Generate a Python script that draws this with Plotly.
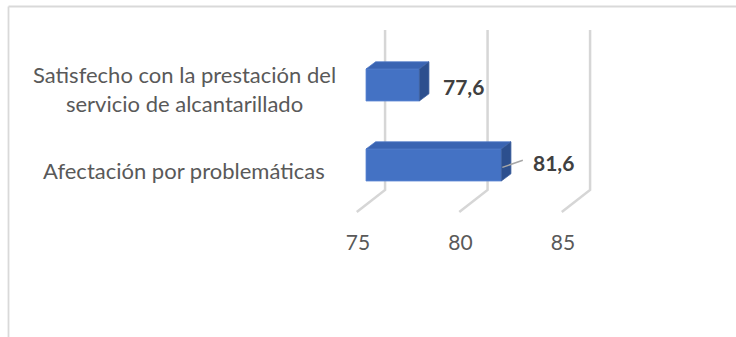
import plotly.graph_objects as go

# --- data ---------------------------------------------------------------
categories = ["Afectación por problemáticas",
              "Satisfecho con la prestación del<br>servicio de alcantarillado"]
values = [81.6, 77.6]
tick_values = [75, 80, 85]
tick_labels = ["75", "80", "85"]
axis_base = 75

# --- style --------------------------------------------------------------
FRONT = "#4472C4"
TOP = "#3A64B2"
SIDE = "#2C4F8E"
GRID = "#D6D6D6"
TEXT = "#595959"
LABEL = "#404040"
FONT = "Lato"

bar_half = 0.2          # half bar thickness (y units)
depth_dx = 0.47         # depth offset of the bar's back faces (x units)
depth_dy = 0.09         # depth offset of the bar's back faces (y units)
wall_dx = 0.93          # back wall offset from the front plane
wall_top, wall_bottom = 1.6875, -0.3125
floor_dx, floor_y = -0.45, -0.5875

W, H = 736, 337
ML, MR, MT, MB = 300, 36, 20, 109
px_per_unit = 20.5
plot_w = W - ML - MR
plot_h = H - MT - MB
x0 = axis_base - 66 / px_per_unit
x_range = [x0, x0 + plot_w / px_per_unit]
y_range = [-(H - MB - 165) / 80, (165 - MT) / 80]

ypos = list(range(len(categories)))

fig = go.Figure()

# back wall gridlines with their floor segments (kept beneath the bars)
for t in tick_values:
    fig.add_shape(type="path", xref="x", yref="y", layer="below",
                  path=(f"M {t + wall_dx},{wall_top} L {t + wall_dx},{wall_bottom} "
                        f"L {t + floor_dx},{floor_y}"),
                  line=dict(color=GRID, width=2.5))

# front faces
fig.add_trace(go.Bar(
    y=ypos, x=[v - axis_base for v in values], base=[axis_base] * len(values),
    orientation="h", width=2 * bar_half,
    marker=dict(color=FRONT, line=dict(color="#5A86D6", width=0.8)),
    hovertext=[f"{v:.1f}".replace(".", ",") for v in values], hoverinfo="text",
    showlegend=False))

# top and side faces
for y, v in zip(ypos, values):
    top = y + bar_half
    bot = y - bar_half
    fig.add_trace(go.Scatter(
        x=[axis_base, axis_base + depth_dx, v + depth_dx, v, axis_base],
        y=[top, top + depth_dy, top + depth_dy, top, top],
        fill="toself", fillcolor=TOP, mode="lines",
        line=dict(color="#4F79C6", width=0.8),
        hoverinfo="skip", showlegend=False))
    fig.add_trace(go.Scatter(
        x=[v, v + depth_dx, v + depth_dx, v, v],
        y=[bot, bot + depth_dy, top + depth_dy, top, bot],
        fill="toself", fillcolor=SIDE, mode="lines",
        line=dict(color="#3C5F9E", width=0.8),
        hoverinfo="skip", showlegend=False))

# leader line for the label that sits away from its bar
lead_idx = values.index(max(values))
fig.add_trace(go.Scatter(
    x=[values[lead_idx] + 0.05, values[lead_idx] + 1.05],
    y=[ypos[lead_idx] - 0.03, ypos[lead_idx] + 0.06],
    mode="lines", line=dict(color="#A6A6A6", width=1.5),
    hoverinfo="skip", showlegend=False))

# value labels
for i, (y, v) in enumerate(zip(ypos, values)):
    fig.add_annotation(
        x=v, y=y, xref="x", yref="y",
        text=f"<b>{v:.1f}</b>".replace(".", ","),
        showarrow=False, xanchor="left",
        xshift=30 if i == lead_idx else 22,
        yshift=3 if i == lead_idx else -1,
        font=dict(family=FONT, size=21, color=LABEL))

# category labels, centred
for y, c in zip(ypos, categories):
    fig.add_annotation(
        x=(184 - ML) / plot_w, y=y, xref="paper", yref="y",
        text=c, showarrow=False, xanchor="center", align="center",
        yshift=-5 if "<br>" not in c else -4,
        font=dict(family=FONT, size=22, color=TEXT))

# chart frame (left and top edges)
def px_to_paper(px, py):
    return (px - ML) / plot_w, (H - MB - py) / plot_h

fx0, fy0 = px_to_paper(8.5, 6.5)
fx1, fy1 = px_to_paper(W + 5, H + 5)
fig.add_shape(type="line", xref="paper", yref="paper",
              x0=fx0, y0=fy0, x1=fx0, y1=fy1,
              line=dict(color="#D9D9D9", width=1.8))
fig.add_shape(type="line", xref="paper", yref="paper",
              x0=fx0, y0=fy0, x1=fx1, y1=fy0,
              line=dict(color="#D9D9D9", width=1.8))

fig.update_layout(
    width=W, height=H,
    margin=dict(l=ML, r=MR, t=MT, b=MB),
    paper_bgcolor="white", plot_bgcolor="white",
    xaxis=dict(range=x_range, tickvals=tick_values, ticktext=tick_labels,
               showgrid=False, zeroline=False, showline=False, ticks="",
               ticklabelshift=-8,
               tickfont=dict(family=FONT, size=21, color=TEXT)),
    yaxis=dict(range=y_range, showgrid=False, zeroline=False,
               showline=False, showticklabels=False, ticks=""),
)

fig.write_html("out.html")
